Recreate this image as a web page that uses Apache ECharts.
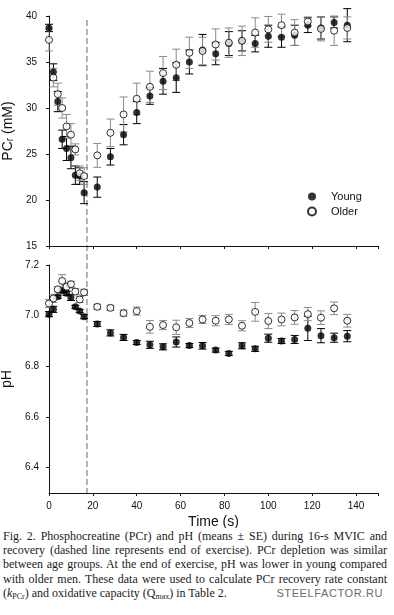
<!DOCTYPE html>
<html><head><meta charset="utf-8">
<script src="https://cdn.jsdelivr.net/npm/echarts@6/dist/echarts.min.js"></script>
<style>
html,body{margin:0;padding:0;background:#fff;}
#chart{position:absolute;left:0;top:0;width:394px;height:528px;}
#cap{position:absolute;left:3px;top:529px;width:384px;font-family:"Liberation Serif","Times New Roman",serif;font-size:12px;line-height:14.2px;color:#1a1a1a;}
#cap .l{white-space:nowrap;text-align:justify;text-align-last:justify;}
#cap .last{white-space:nowrap;position:relative;}
#cap sub{font-size:8px;vertical-align:-2px;line-height:0;}
#cap .wm{position:absolute;right:4px;top:0;font-family:"Liberation Sans",Arial,sans-serif;font-size:11px;color:#6a6a6a;letter-spacing:0.6px;}
</style>
</head><body>
<div id="chart"></div>
<div id="cap">
<div class="l">Fig. 2. Phosphocreatine (PCr) and pH (means ± SE) during 16-s MVIC and</div>
<div class="l">recovery (dashed line represents end of exercise). PCr depletion was similar</div>
<div class="l">between age groups. At the end of exercise, pH was lower in young compared</div>
<div class="l">with older men. These data were used to calculate PCr recovery rate constant</div>
<div class="last">(<i>k</i><sub>PCr</sub>) and oxidative capacity (Q<sub>max</sub>) in Table 2.<span class="wm">STEELFACTOR.RU</span></div>
</div>
<script>
const TIME = [0,2,4,6,8,10,12,14,16,22,28,34,40,46,52,58,64,70,76,82,88,94,100,106,112,118,124,130,136];
const END_EXERCISE = 17.3;

const PCR_YOUNG = [38.7,33.9,30.7,26.6,25.6,24.6,22.7,22.6,20.8,21.4,24.7,27.1,29.5,31.3,32.9,33.3,35.0,36.3,35.9,37.0,37.3,37.0,37.8,37.7,37.9,39.0,38.7,39.3,39.0];
const PCR_YOUNG_SE = [0.4,0.9,1.1,1.0,1.3,1.2,1.0,0.9,1.2,1.1,0.9,1.1,1.2,0.9,1.4,1.6,1.3,1.7,1.2,1.3,1.1,0.9,1.2,1.1,1.1,0.8,1.2,0.6,1.8];
const PCR_OLDER = [37.4,33.3,31.5,30.0,28.0,27.1,25.5,22.9,22.6,24.85,27.3,29.3,31.0,32.3,33.8,34.7,36.0,36.2,36.9,37.1,37.3,38.2,38.55,39.0,38.2,39.4,38.6,38.4,38.7];
const PCR_OLDER_SE = [1.2,1.0,1.2,1.1,1.3,1.2,0.6,0.8,0.9,1.3,1.5,1.9,1.7,1.7,1.8,1.7,1.7,1.5,1.7,1.6,1.6,1.6,1.4,1.2,1.4,0.5,1.3,1.6,1.2];

const PH_YOUNG = [7.006,7.025,7.075,7.098,7.088,7.072,7.035,7.018,6.996,6.967,6.932,6.914,6.894,6.885,6.877,6.896,6.882,6.881,6.864,6.851,6.881,6.869,6.911,6.900,6.906,6.950,6.921,6.913,6.919];
const PH_YOUNG_SE = [0.01,0.012,0.006,0.006,0.008,0.012,0.006,0.006,0.008,0.01,0.012,0.012,0.008,0.014,0.012,0.02,0.008,0.013,0.008,0.008,0.012,0.01,0.016,0.01,0.016,0.048,0.028,0.018,0.022];
const PH_OLDER = [7.048,7.068,7.104,7.137,7.114,7.124,7.095,7.064,7.092,7.035,7.031,7.010,7.018,6.956,6.963,6.954,6.971,6.985,6.980,6.985,6.960,7.015,6.979,6.985,6.993,7.006,6.992,7.029,6.980];
const PH_OLDER_SE = [0.016,0.016,0.01,0.025,0.015,0.012,0.012,0.012,0.012,0.01,0.01,0.012,0.016,0.025,0.018,0.028,0.018,0.016,0.02,0.02,0.02,0.037,0.03,0.025,0.027,0.026,0.027,0.025,0.025];

const X_TICKS = [0,20,40,60,80,100,120,140];
const PCR_TICKS = [15,20,25,30,35,40];
const PH_TICKS = [6.4,6.6,6.8,7.0,7.2];

const FONT = '"Liberation Sans", Arial, sans-serif';
const INK = '#111';

function pts(v){ return TIME.map((t,i)=>[t,v[i]]); }
function errs(v,se){ return TIME.map((t,i)=>[t,v[i]-se[i],v[i]+se[i]]); }
function errRender(color){
  return function(params, api){
    const x = api.value(0), lo = api.value(1), hi = api.value(2);
    const a = api.coord([x, hi]), b = api.coord([x, lo]);
    const w = 4;
    const st = {stroke: color, lineWidth: 1};
    return {type:'group', children:[
      {type:'line', shape:{x1:a[0],y1:a[1],x2:b[0],y2:b[1]}, style:st},
      {type:'line', shape:{x1:a[0]-w,y1:a[1],x2:a[0]+w,y2:a[1]}, style:st},
      {type:'line', shape:{x1:b[0]-w,y1:b[1],x2:b[0]+w,y2:b[1]}, style:st}
    ]};
  };
}
const axisCommon = {
  axisLine:{show:true,lineStyle:{color:INK,width:1}},
  axisTick:{show:true,inside:false,length:3,lineStyle:{color:INK}},
  splitLine:{show:false},
  axisLabel:{color:INK,fontFamily:FONT,fontSize:10}
};
const youngStyle = {color:'#000'};
const olderStyle = {color:'#fff',borderColor:'#000',borderWidth:1};

const chart = echarts.init(document.getElementById('chart'), null, {renderer:'canvas'});
const option = {
  animation:false,
  backgroundColor:'#fff',
  textStyle:{fontFamily:FONT},
  grid:[
    {left:49,right:16,top:16,height:230,containLabel:false,outerBoundsMode:'none'},
    {left:49,right:16,top:265,height:228,containLabel:false,outerBoundsMode:'none'}
  ],
  legend:{
    data:['Young','Older'],
    left:307, top:191, orient:'vertical', itemGap:4,
    itemWidth:28, itemHeight:8, padding:0,
    textStyle:{fontFamily:FONT,fontSize:11,color:INK}
  },
  xAxis:[
    Object.assign({}, axisCommon, {gridIndex:0,type:'value',min:0,max:150,interval:20,
      axisLabel:{show:false}}),
    Object.assign({}, axisCommon, {gridIndex:1,type:'value',min:0,max:150,interval:20,
      axisLabel:Object.assign({}, axisCommon.axisLabel, {margin:8, customValues:X_TICKS}),
      name:'Time (s)', nameLocation:'middle', nameGap:22,
      nameTextStyle:{fontFamily:FONT,fontSize:14,color:INK}})
  ],
  yAxis:[
    Object.assign({}, axisCommon, {gridIndex:0,type:'value',min:15,max:40,interval:5,
      axisLabel:Object.assign({}, axisCommon.axisLabel, {margin:12, customValues:PCR_TICKS}),
      name:'{a|PC}{b|r}{a| (mM)}', nameLocation:'middle', nameGap:26, nameRotate:90,
      nameTextStyle:{rich:{a:{fontFamily:FONT,fontSize:14,color:INK},b:{fontFamily:FONT,fontSize:10,color:INK,padding:[4,0,0,0]}}}}),
    Object.assign({}, axisCommon, {gridIndex:1,type:'value',min:6.3,max:7.2,
      axisTick:Object.assign({}, axisCommon.axisTick, {customValues:PH_TICKS}),
      axisLabel:Object.assign({}, axisCommon.axisLabel, {margin:10, customValues:PH_TICKS, formatter:v=>v.toFixed(1)}),
      name:'pH', nameLocation:'middle', nameGap:24, nameRotate:90,
      nameTextStyle:{fontFamily:FONT,fontSize:14,color:INK}})
  ],
  series:[
    {name:'Young SE PCr',type:'custom',xAxisIndex:0,yAxisIndex:0,renderItem:errRender('#000'),data:errs(PCR_YOUNG,PCR_YOUNG_SE),encode:{x:0,y:[1,2]},silent:true,z:1},
    {name:'Older SE PCr',type:'custom',xAxisIndex:0,yAxisIndex:0,renderItem:errRender('#8a8a8a'),data:errs(PCR_OLDER,PCR_OLDER_SE),encode:{x:0,y:[1,2]},silent:true,z:1},
    {name:'Young SE pH',type:'custom',xAxisIndex:1,yAxisIndex:1,renderItem:errRender('#000'),data:errs(PH_YOUNG,PH_YOUNG_SE),encode:{x:0,y:[1,2]},silent:true,z:1},
    {name:'Older SE pH',type:'custom',xAxisIndex:1,yAxisIndex:1,renderItem:errRender('#8a8a8a'),data:errs(PH_OLDER,PH_OLDER_SE),encode:{x:0,y:[1,2]},silent:true,z:1},
    {name:'Young',type:'scatter',xAxisIndex:0,yAxisIndex:0,symbol:'circle',symbolSize:7,itemStyle:youngStyle,data:pts(PCR_YOUNG),z:3},
    {name:'Older',type:'scatter',xAxisIndex:0,yAxisIndex:0,symbol:'circle',symbolSize:7,itemStyle:olderStyle,data:pts(PCR_OLDER),z:4},
    {name:'Young',type:'scatter',xAxisIndex:1,yAxisIndex:1,symbol:'circle',symbolSize:7,itemStyle:youngStyle,data:pts(PH_YOUNG),z:3},
    {name:'Older',type:'scatter',xAxisIndex:1,yAxisIndex:1,symbol:'circle',symbolSize:7,itemStyle:olderStyle,data:pts(PH_OLDER),z:4}
  ]
};
chart.setOption(option);
const px = chart.convertToPixel({xAxisIndex:0}, END_EXERCISE);
const yTop = chart.convertToPixel({yAxisIndex:0}, 40) + 4;
const yBot = chart.convertToPixel({yAxisIndex:1}, 6.3);
chart.setOption({graphic:[{type:'line',silent:true,z:0,
  shape:{x1:px,y1:yTop,x2:px,y2:yBot},
  style:{stroke:'#666',lineWidth:1,lineDash:[6,3]}}]});
</script>
</body></html>
